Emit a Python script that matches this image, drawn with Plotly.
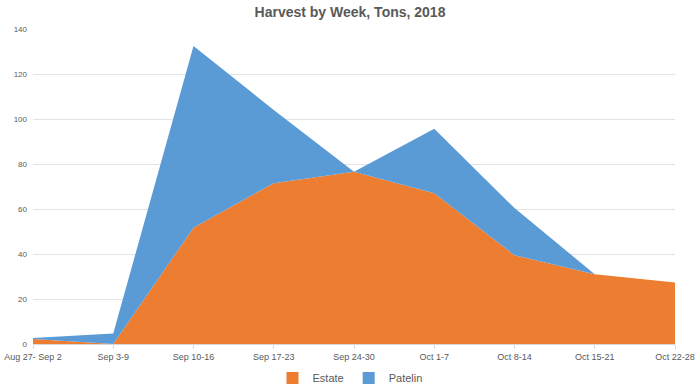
import plotly.graph_objects as go

weeks = ["Aug 27- Sep 2", "Sep 3-9", "Sep 10-16", "Sep 17-23", "Sep 24-30",
         "Oct 1-7", "Oct 8-14", "Oct 15-21", "Oct 22-28"]
estate = [2.2, 0, 51.7, 71.5, 76.6, 67.0, 39.4, 31.0, 27.3]
patelin = [0.5, 4.7, 80.7, 32.5, 0, 28.7, 21.0, 0, 0]

ORANGE = "#ED7D31"
BLUE = "#5B9BD5"

fig = go.Figure()
fig.add_trace(go.Scatter(x=weeks, y=estate, name="Estate", mode="lines",
                         stackgroup="one", line=dict(width=0, color=ORANGE),
                         fillcolor=ORANGE, showlegend=False))
fig.add_trace(go.Scatter(x=weeks, y=patelin, name="Patelin", mode="lines",
                         stackgroup="one", line=dict(width=0, color=BLUE),
                         fillcolor=BLUE, showlegend=False))
# legend swatches (square markers, like the original)
for name, col in [("Estate", ORANGE), ("Patelin", BLUE)]:
    fig.add_trace(go.Scatter(x=[None], y=[None], name=name, mode="markers",
                             marker=dict(symbol="square", size=8, color=col),
                             showlegend=True))

W, H = 700, 387
fig.update_layout(
    width=W, height=H,
    margin=dict(l=33, r=25, t=29, b=43),
    paper_bgcolor="white", plot_bgcolor="white",
    font=dict(family="Liberation Sans, Arial, sans-serif", color="#595959", size=9),
    title=dict(text="<b>Harvest by Week, Tons, 2018</b>", x=0.5, xanchor="center",
               y=1 - 12 / H, yref="container", yanchor="middle",
               font=dict(size=14, color="#595959")),
    showlegend=True,
    legend=dict(orientation="h", x=0.5, xanchor="center", xref="container",
                y=1 - 378 / H, yref="container", yanchor="middle",
                font=dict(size=11, color="#595959"), traceorder="normal",
                itemwidth=30, itemsizing="constant"),
    xaxis=dict(type="category", range=[0, 8], showgrid=False, showline=True,
               linecolor="#d9d9d9", linewidth=1, ticks="outside", ticklen=4,
               tickcolor="#d9d9d9", tickfont=dict(size=9, color="#595959"),
               automargin=False, ticklabeloverflow="allow"),
    yaxis=dict(range=[0, 140], dtick=20, showgrid=True, gridcolor="#e3e3e3",
               gridwidth=1, zeroline=False, showline=False, automargin=False,
               tickfont=dict(size=8, color="#595959"), ticklabelstandoff=5),
)

fig.write_html("out.html",
               config={"displayModeBar": False},
               post_script="document.body.style.margin='0px';"
                           "document.body.style.overflow='hidden';")
